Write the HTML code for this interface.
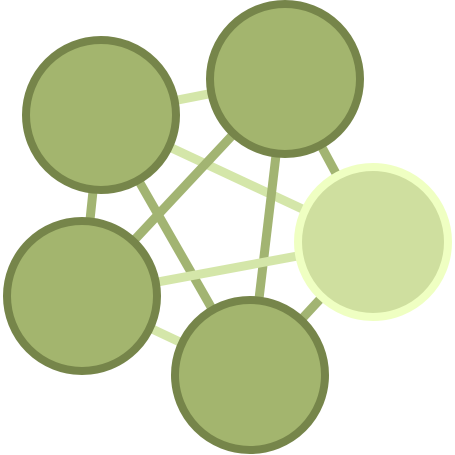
<!DOCTYPE html>
<html><head><meta charset="utf-8"><style>html,body{margin:0;padding:0;background:#fff}svg{display:block}</style></head>
<body>
<svg id="chart" width="455" height="455" viewBox="0 0 455 455"></svg>
<script>
const nodeIds = ["a","b","c","d","e"];
const nodeX = [101,285,373,82,250];
const nodeY = [115,79,242,296,375];
const nodeHighlight = [false,false,true,false,false];
const edgeFrom = ["a","a","a","a","b","b","b","c","c","d"];
const edgeTo =   ["b","d","c","e","d","e","c","d","e","e"];
const edgeLight = [true,false,true,false,false,false,false,true,false,true];
const svg = document.getElementById('chart');
const NS = 'http://www.w3.org/2000/svg';
const R = 75;
function idx(id){return nodeIds.indexOf(id);}
const eg = document.createElementNS(NS,'g');


svg.appendChild(eg);
for(let i=0;i<edgeFrom.length;i++){
  const s=idx(edgeFrom[i]), t=idx(edgeTo[i]);
  const l=document.createElementNS(NS,'line');
  l.setAttribute('x1',nodeX[s]);l.setAttribute('y1',nodeY[s]);
  l.setAttribute('x2',nodeX[t]);l.setAttribute('y2',nodeY[t]);
  l.setAttribute('stroke',edgeLight[i]?'#d4e6a9':'#a2b472');
  l.setAttribute('stroke-width','9');
  
  
  eg.appendChild(l);
}
for(let i=0;i<nodeIds.length;i++){
  const c=document.createElementNS(NS,'circle');
  c.setAttribute('cx',nodeX[i]);c.setAttribute('cy',nodeY[i]);c.setAttribute('r',R);
  c.setAttribute('fill',nodeHighlight[i]?'#cfdf9f':'#a3b56e');
  c.setAttribute('stroke',nodeHighlight[i]?'#efffc2':'#76854a');
  c.setAttribute('stroke-width','8');
  
  
  svg.appendChild(c);
}
</script>
</body></html>
